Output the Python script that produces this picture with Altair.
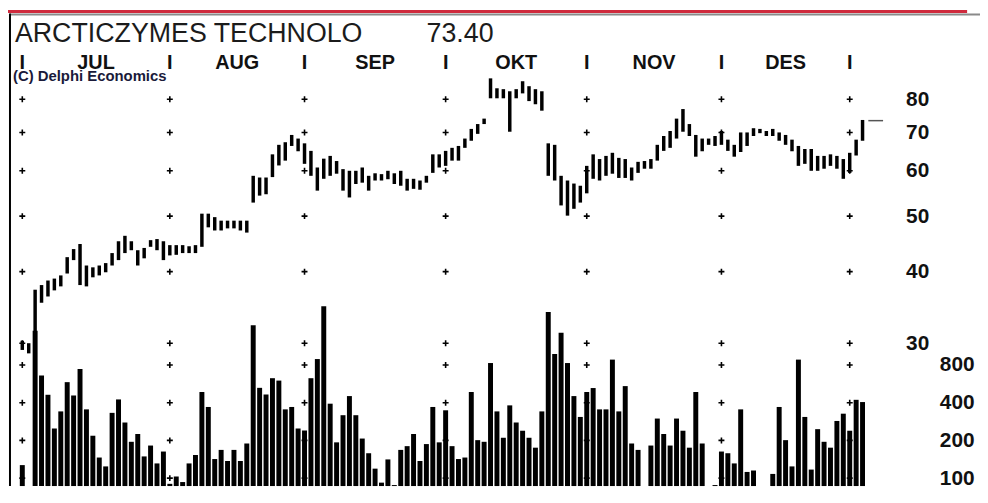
import math
import altair as alt
import pandas as pd

# ---------------- data ----------------
high = [30.3, 30.0, 37.2, 37.9, 38.6, 38.9, 39.4, 42.4, 43.8, 44.7,
        41.0, 40.7, 41.0, 41.4, 43.1, 45.2, 46.2, 45.2, 43.6, 44.0,
        45.4, 45.6, 45.2, 44.5, 44.5, 44.5, 44.3, 44.5, 50.5, 50.5,
        49.8, 49.1, 49.1, 49.1, 49.1, 49.1, 58.8, 58.4, 58.4, 64.1,
        66.6, 67.3, 69.3, 68.3, 67.0, 65.0, 60.8, 63.0, 63.7, 62.4,
        60.4, 60.0, 60.0, 60.8, 58.8, 59.4, 59.2, 60.0, 59.4, 60.0,
        58.1, 58.1, 57.7, 58.8, 64.1, 64.1, 65.0, 65.8, 66.3, 68.3,
        71.0, 72.4, 74.0, 87.0, 83.6, 83.3, 82.6, 83.3, 86.0, 84.3,
        83.3, 82.6, 67.0, 66.6, 58.8, 57.7, 57.0, 56.5, 61.2, 64.1,
        62.9, 63.7, 64.5, 63.2, 62.9, 60.8, 62.2, 62.4, 62.9, 66.6,
        69.0, 70.4, 74.0, 76.9, 72.4, 69.3, 68.3, 68.3, 69.0, 70.4,
        68.0, 66.6, 70.0, 70.0, 71.2, 71.0, 70.4, 71.0, 70.0, 69.3,
        68.0, 66.3, 65.5, 65.5, 63.7, 63.7, 64.1, 63.7, 62.9, 64.5,
        68.0, 73.6]

low = [29.2, 28.8, 29.8, 35.3, 36.2, 37.1, 37.7, 39.7, 41.9, 37.9,
       37.7, 39.1, 39.4, 39.9, 41.0, 41.9, 43.1, 43.6, 41.0, 42.2,
       44.2, 43.6, 41.9, 42.7, 42.8, 43.1, 43.1, 43.1, 44.2, 47.8,
       47.2, 47.2, 47.6, 47.6, 47.2, 46.8, 52.8, 54.3, 54.6, 58.5,
       61.3, 62.5, 66.3, 64.9, 61.7, 58.8, 55.4, 58.1, 58.8, 59.3,
       55.4, 53.9, 56.9, 57.2, 55.4, 57.7, 57.7, 58.0, 56.9, 56.5,
       55.4, 55.8, 55.6, 57.2, 59.5, 60.8, 61.2, 62.5, 62.5, 65.8,
       67.7, 69.6, 72.4, 80.3, 80.3, 80.3, 70.2, 80.3, 81.9, 79.4,
       78.4, 76.4, 58.8, 57.7, 52.2, 50.1, 51.5, 52.8, 54.8, 58.1,
       57.7, 58.8, 59.3, 58.3, 58.3, 57.7, 59.5, 60.5, 60.5, 62.5,
       65.0, 65.8, 68.3, 70.2, 69.0, 63.5, 64.9, 66.6, 66.3, 66.6,
       65.0, 63.5, 64.7, 66.3, 69.0, 69.8, 69.0, 69.0, 67.7, 66.6,
       64.9, 61.2, 61.7, 60.0, 60.0, 60.5, 61.2, 60.5, 58.1, 59.5,
       63.8, 67.7]

volume = [127, 86, 1500, 659, 463, 249, 341, 584, 457, 744,
          354, 218, 146, 124, 332, 425, 278, 195, 225, 149,
          182, 131, 163, 90, 103, 93, 131, 153, 487, 370,
          142, 168, 137, 168, 137, 189, 1660, 526, 466, 628,
          601, 354, 370, 249, 240, 628, 893, 2360, 393, 193,
          318, 452, 318, 207, 158, 119, 92, 141, 88, 168,
          180, 225, 137, 187, 370, 193, 348, 180, 142, 146,
          487, 201, 195, 830, 341, 210, 381, 278, 239, 210,
          175, 341, 2120, 979, 1450, 830, 452, 308, 487, 524,
          354, 354, 884, 341, 543, 189, 168, 83, 182, 299,
          225, 182, 299, 239, 175, 487, 189, 86, 88, 163,
          158, 131, 354, 112, 115, 76, 74, 108, 370, 201,
          124, 884, 308, 117, 246, 195, 175, 286, 327, 239,
          422, 405]

month_names = ["JUL", "AUG", "SEP", "OKT", "NOV", "DES"]
month_start = [0, 23, 44, 66, 88, 109, 129]   # first trading day of each month (index)
price_ticks = [30, 40, 50, 60, 70, 80]
volume_ticks = [100, 200, 400, 800]
stock_name = "ARCTICZYMES TECHNOLO"
last_price = "73.40"
last_price_value = 73.40
source_note = "(C) Delphi Economics"

# ---------------- layout ----------------
W, H = 895, 475
PAD = {"left": 2, "top": 5, "right": 83, "bottom": 0}
STEP = 6.54          # px per trading day
FIRST = 7.5          # px of day 0 from plot left
FONT = "Liberation Sans"
PLUS = "M-1,0H1M0,-1V1"

x_dom = [-FIRST / STEP, (W - FIRST) / STEP]


def log_domain(v_hi, y_hi, v_lo, y_lo):
    k = (y_lo - y_hi) / (math.log(v_hi) - math.log(v_lo))
    top = math.exp(math.log(v_hi) + y_hi / k)
    bot = math.exp(math.log(v_hi) - (H - y_hi) / k)
    return [bot, top]


p_dom = log_domain(80, 85, 30, 331)
v_dom = log_domain(800, 353, 100, 467)

n = len(high)
days = pd.DataFrame({"day": list(range(n)), "high": high, "low": low, "volume": volume})
grid_p = pd.DataFrame([(d, p) for d in month_start for p in price_ticks], columns=["day", "level"])
grid_v = pd.DataFrame([(d, v) for d in month_start for v in volume_ticks], columns=["day", "level"])
months = pd.DataFrame({
    "name": month_names,
    "mid": [(a + b) / 2 for a, b in zip(month_start[:-1], month_start[1:])],
})
seps = pd.DataFrame({"day": month_start, "t": ["I"] * len(month_start)})
last = pd.DataFrame({"x1": [n - 0.1], "x2": [n + 2.2], "p": [last_price_value]})
one = pd.DataFrame({"a": [0]})

xs = alt.Scale(domain=x_dom, nice=False, zero=False)
ps = alt.Scale(type="log", domain=p_dom, nice=False)
vs = alt.Scale(type="log", domain=v_dom, nice=False, clamp=True)

price_axis = alt.Axis(orient="right", values=price_ticks, format="d", labelPadding=8,
                      ticks=False, domain=False, grid=False, labelFontSize=21,
                      labelFontWeight="bold", labelFont=FONT, labelColor="#111111",
                      labelAlign="left", labelBaseline="middle", labelOverlap=False, title=None)
volume_axis = alt.Axis(orient="right", values=volume_ticks, format="d", labelPadding=42,
                       ticks=False, domain=False, grid=False, labelFontSize=21,
                       labelFontWeight="bold", labelFont=FONT, labelColor="#111111",
                       labelAlign="left", labelBaseline="middle", labelOverlap=False, title=None)

red_line = alt.Chart(one).mark_rule(color="#cf2a3d", strokeWidth=3).encode(
    x=alt.value(-2), x2=alt.value(965), y=alt.value(-3.5))
top_line = alt.Chart(one).mark_rule(color="#8a8a8a", strokeWidth=2).encode(
    x=alt.value(0), x2=alt.value(978), y=alt.value(-0.5))
left_line = alt.Chart(one).mark_rule(color="#000000", strokeWidth=2).encode(
    x=alt.value(0), y=alt.value(-1.5), y2=alt.value(H))

cross_p = alt.Chart(grid_p).mark_point(shape=PLUS, filled=False, size=36, strokeWidth=1.6,
                                       color="black", opacity=1).encode(
    x=alt.X("day:Q", scale=xs, axis=None),
    y=alt.Y("level:Q", scale=ps, axis=price_axis))
cross_v = alt.Chart(grid_v).mark_point(shape=PLUS, filled=False, size=36, strokeWidth=1.6,
                                       color="black", opacity=1).encode(
    x=alt.X("day:Q", scale=xs, axis=None),
    y=alt.Y("level:Q", scale=vs, axis=volume_axis))

vol_bars = alt.Chart(days).mark_bar(size=5, color="black").encode(
    x=alt.X("day:Q", scale=xs, axis=None),
    y=alt.Y("volume:Q", scale=vs, axis=None),
    y2=alt.datum(v_dom[0]))

price_bars = alt.Chart(days).mark_rule(strokeWidth=3.5, color="black").encode(
    x=alt.X("day:Q", scale=xs, axis=None),
    y=alt.Y("low:Q", scale=ps, axis=None),
    y2="high:Q")

last_mark = alt.Chart(last).mark_rule(strokeWidth=1.5, color="#555555").encode(
    x=alt.X("x1:Q", scale=xs, axis=None), x2="x2:Q",
    y=alt.Y("p:Q", scale=ps, axis=None))

month_text = alt.Chart(months).mark_text(font=FONT, fontSize=20, fontWeight="bold",
                                         color="#111111", align="center", baseline="alphabetic").encode(
    x=alt.X("mid:Q", scale=xs, axis=None), y=alt.value(55), text="name:N")
sep_text = alt.Chart(seps).mark_text(font=FONT, fontSize=20, fontWeight="bold",
                                     color="#111111", align="center", baseline="alphabetic").encode(
    x=alt.X("day:Q", scale=xs, axis=None), y=alt.value(55), text="t:N")

title_text = alt.Chart(pd.DataFrame({"t": [stock_name]})).mark_text(
    font=FONT, fontSize=27, color="#1b1b1b", align="left", baseline="alphabetic").encode(
    x=alt.value(5), y=alt.value(27), text="t:N")
price_text = alt.Chart(pd.DataFrame({"t": [last_price]})).mark_text(
    font=FONT, fontSize=27, color="#1b1b1b", align="left", baseline="alphabetic").encode(
    x=alt.value(420), y=alt.value(27), text="t:N")
source_text = alt.Chart(pd.DataFrame({"t": [source_note]})).mark_text(
    font=FONT, fontSize=15, fontWeight="bold", color="#1a1a3a", align="left", baseline="alphabetic").encode(
    x=alt.value(3), y=alt.value(67), text="t:N")

chart = alt.layer(
    red_line, top_line, left_line,
    cross_p, cross_v, vol_bars, price_bars, last_mark,
    month_text, sep_text, title_text, price_text, source_text,
).resolve_scale(y="independent").properties(
    width=W, height=H, padding=PAD,
    autosize=alt.AutoSizeParams(type="none"),
    background="white",
).configure_view(stroke=None)

chart.save("out.html", embed_options={"renderer": "svg", "actions": False})
